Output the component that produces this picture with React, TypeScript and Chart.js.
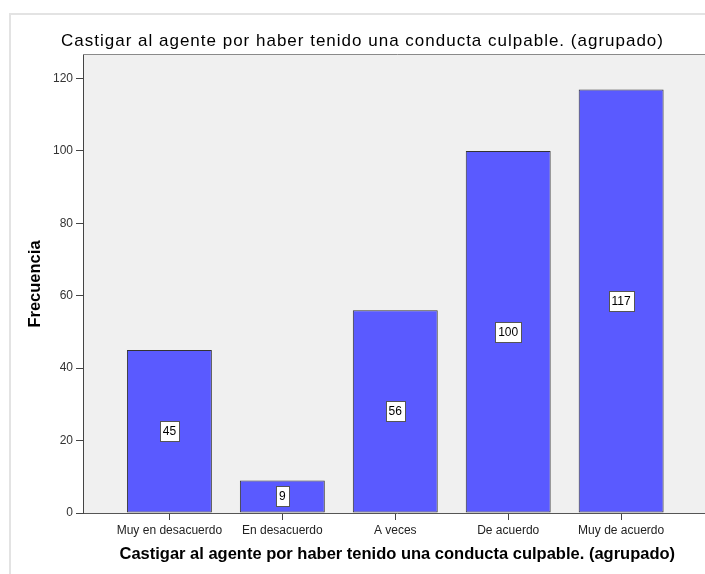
import React, { useEffect, useRef } from 'react';
import { Chart, registerables } from 'chart.js';

Chart.register(...registerables);

const categories = ['Muy en desacuerdo', 'En desacuerdo', 'A veces', 'De acuerdo', 'Muy de acuerdo'];
const frequencies = [45, 9, 56, 100, 117];
const yTickValues = [0, 20, 40, 60, 80, 100, 120];
const chartTitle = 'Castigar al agente por haber tenido una conducta culpable. (agrupado)';
const xAxisTitle = 'Castigar al agente por haber tenido una conducta culpable. (agrupado)';
const yAxisTitle = 'Frecuencia';

const FAMILY = '"Liberation Sans", Arial, Helvetica, sans-serif';

const backgroundPlugin = {
  id: 'spssBackground',
  beforeDraw(chart: any) {
    const { ctx, chartArea, width, height } = chart;
    ctx.save();
    ctx.fillStyle = '#ffffff';
    ctx.fillRect(0, 0, width, height);
    // outer light frame
    ctx.strokeStyle = '#e3e3e3';
    ctx.lineWidth = 2;
    ctx.beginPath();
    ctx.moveTo(10, height + 5);
    ctx.lineTo(10, 14);
    ctx.lineTo(width + 5, 14);
    ctx.stroke();
    // plot background
    ctx.fillStyle = '#f0f0f0';
    ctx.fillRect(chartArea.left, chartArea.top, chartArea.right - chartArea.left, chartArea.bottom - chartArea.top);
    // top border of plot
    ctx.strokeStyle = '#8a8a8a';
    ctx.lineWidth = 1;
    ctx.beginPath();
    ctx.moveTo(chartArea.left, chartArea.top - 0.5);
    ctx.lineTo(chartArea.right, chartArea.top - 0.5);
    ctx.stroke();
    // main title
    ctx.fillStyle = '#000000';
    ctx.font = '17px ' + FAMILY;
    try { (ctx as any).letterSpacing = '1px'; } catch (e) {}
    ctx.textAlign = 'left';
    ctx.textBaseline = 'alphabetic';
    ctx.fillText(chartTitle, 61, 46);
    try { (ctx as any).letterSpacing = '0px'; } catch (e) {}
    ctx.restore();
  },
};

const valueLabelPlugin = {
  id: 'valueLabels',
  afterDatasetsDraw(chart: any) {
    const { ctx } = chart;
    const meta = chart.getDatasetMeta(0);
    ctx.save();
    ctx.font = '12px ' + FAMILY;
    meta.data.forEach((bar: any, i: number) => {
      const { x, y, base } = bar.getProps(['x', 'y', 'base'], true);
      const cy = (y + base) / 2;
      const text = String(frequencies[i]);
      const w = Math.round(ctx.measureText(text).width + 6);
      const h = 20;
      const left = Math.round(x - w / 2) + 0.5;
      const top = Math.round(cy - h / 2) + 0.5;
      ctx.fillStyle = '#ffffff';
      ctx.fillRect(left, top, w, h);
      ctx.strokeStyle = '#555555';
      ctx.lineWidth = 1;
      ctx.strokeRect(left, top, w, h);
      ctx.fillStyle = '#000000';
      ctx.textAlign = 'center';
      ctx.textBaseline = 'middle';
      ctx.fillText(text, x, top + h / 2 + 0.5);
    });
    ctx.restore();
  },
};

export default function App() {
  const canvasRef = useRef<HTMLCanvasElement | null>(null);

  useEffect(() => {
    const canvas = canvasRef.current;
    if (!canvas) return;
    const chart = new Chart(canvas, {
      type: 'bar',
      data: {
        datasets: [
          {
            data: categories.map((_, i) => ({ x: i, y: frequencies[i] })),
            backgroundColor: '#5a5aff',
            borderColor: '#333333',
            borderWidth: 1,
            borderSkipped: false,
            barPercentage: 0.752,
            categoryPercentage: 1,
          },
        ],
      },
      options: {
        animation: false,
        responsive: false,
        devicePixelRatio: 1,
        layout: { padding: { left: 0, top: 55, right: 8.5, bottom: 0 } },
        plugins: {
          legend: { display: false },
          tooltip: { enabled: false },
          title: { display: false },
        },
        scales: {
          x: {
            type: 'linear',
            min: -0.765,
            max: 4.8,
            offset: false,
            afterBuildTicks: (s: any) => {
              s.ticks = categories.map((_, i) => ({ value: i }));
            },
            afterFit: (s: any) => {
              s.height = 61;
            },
            ticks: {
              autoSkip: false,
              maxRotation: 0,
              minRotation: 0,
              padding: 3,
              color: '#222222',
              font: { size: 12, family: FAMILY },
              callback: (v: any) => categories[v] ?? '',
            },
            grid: { offset: false, drawOnChartArea: false, drawTicks: true, tickLength: 7, color: '#444444' },
            border: { display: true, color: '#555555', width: 1 },
            title: {
              display: true,
              text: xAxisTitle,
              color: '#000000',
              font: { size: 16.5, weight: 'bold', family: FAMILY },
              padding: { top: 0, bottom: 10 },
            },
          },
          y: {
            type: 'linear',
            min: 0,
            max: 126.5,
            afterBuildTicks: (s: any) => {
              s.ticks = yTickValues.map((v) => ({ value: v }));
            },
            afterFit: (s: any) => {
              s.width = 83;
            },
            ticks: {
              padding: 3,
              color: '#333333',
              font: { size: 12, family: FAMILY },
            },
            grid: { drawOnChartArea: false, drawTicks: true, tickLength: 7, color: '#444444' },
            border: { display: true, color: '#444444', width: 1 },
            title: {
              display: true,
              text: yAxisTitle,
              color: '#000000',
              font: { size: 16.5, weight: 'bold', family: FAMILY },
              padding: { top: 26, bottom: 0 },
            },
          },
        },
      } as any,
      plugins: [backgroundPlugin, valueLabelPlugin],
    });
    return () => chart.destroy();
  }, []);

  return (
    <div style={{ position: 'fixed', left: 0, top: 0, width: 705, height: 574, overflow: 'hidden', background: '#fff' }}>
      <canvas ref={canvasRef} width={720} height={574} style={{ display: 'block' }} />
    </div>
  );
}
